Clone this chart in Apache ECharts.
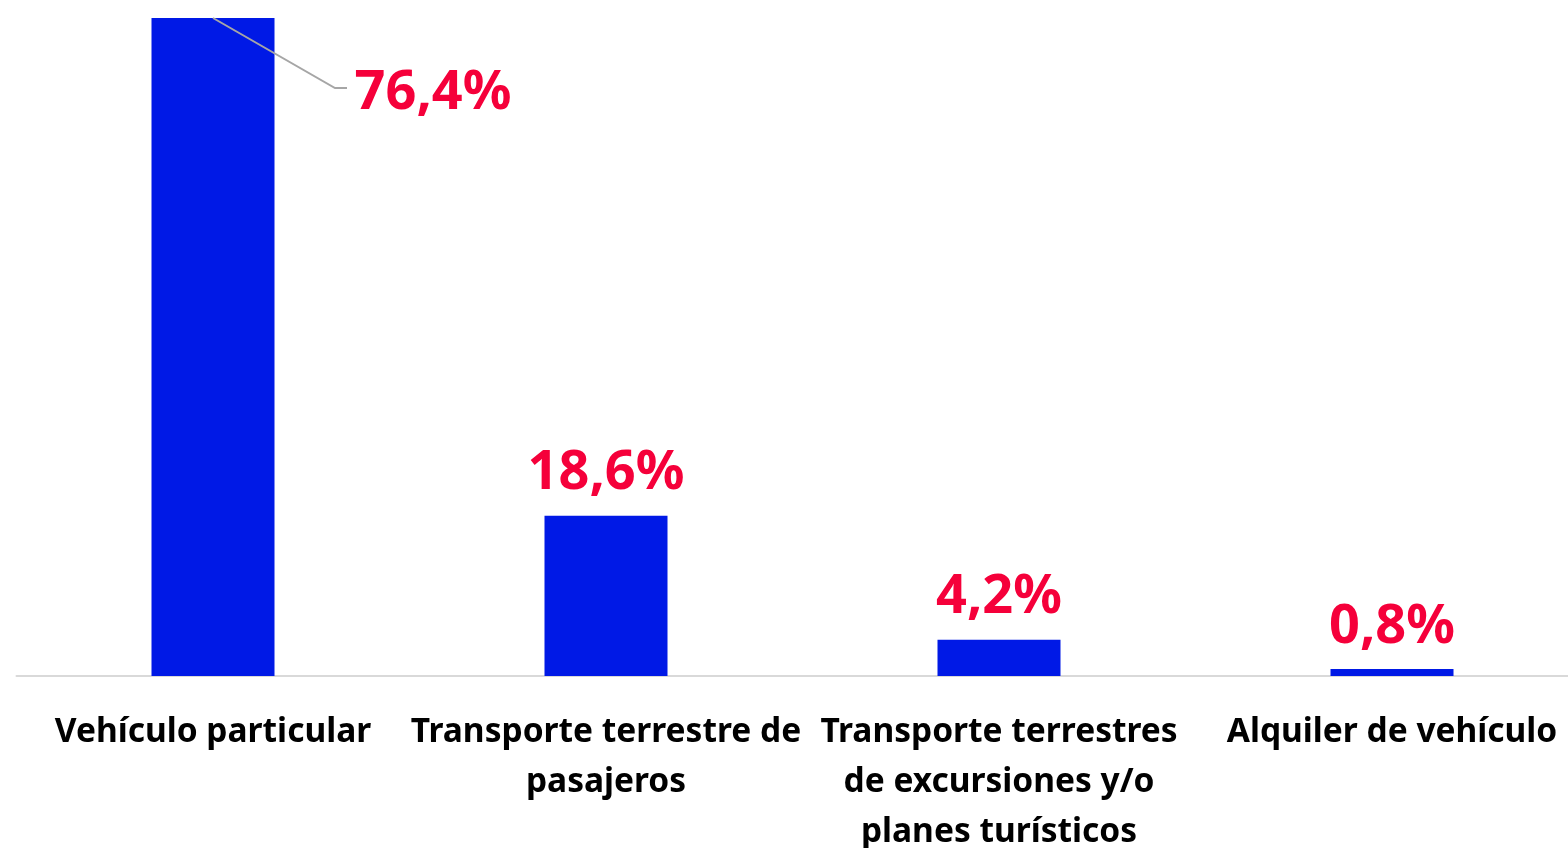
<!DOCTYPE html>
<html>
<head>
<meta charset="utf-8">
<script src="https://cdn.jsdelivr.net/npm/echarts@6/dist/echarts.min.js"></script>
<style>html,body{margin:0;padding:0;background:#fff;}#c{width:1568px;height:848px;}</style>
</head>
<body>
<div id="c"></div>
<script>
const categories = ['Vehículo particular', 'Transporte terrestre de\npasajeros', 'Transporte terrestres\nde excursiones y/o\nplanes turísticos', 'Alquiler de vehículo'];
const values = [76.4, 18.6, 4.2, 0.8];
const valueLabels = ['76,4%', '18,6%', '4,2%', '0,8%'];

const chart = echarts.init(document.getElementById('c'), null, {renderer: 'canvas'});
chart.setOption({
  animation: false,
  grid: {left: 16.5, right: -20.5, top: 18, bottom: 172, containLabel: false, outerBoundsMode: 'none'},
  xAxis: {
    type: 'category',
    data: categories,
    axisLine: {lineStyle: {color: '#d9d9d9', width: 2}},
    axisTick: {show: false},
    axisLabel: {
      interval: 0, margin: 31, color: '#000', fontFamily: 'Noto Sans', fontWeight: 'bold',
      fontSize: 33.5, lineHeight: 50
    }
  },
  yAxis: {type: 'value', min: 0, max: 76.4, show: false, splitLine: {show: false}},
  series: [{
    type: 'bar',
    data: values,
    barWidth: 123,
    itemStyle: {color: '#0019E6'},
    label: {
      show: true, position: 'top', distance: 15,
      formatter: p => valueLabels[p.dataIndex],
      color: '#F5003A', fontFamily: 'Noto Sans', fontWeight: 'bold', fontSize: 54
    },
    labelLayout: function (params) {
      if (params.dataIndex === 0) {
        return {dx: 220, dy: 118};
      }
      return {};
    }
  }, {
    type: 'custom',
    data: [[0, values[0]]],
    silent: true,
    z: 3,
    renderItem: function (params, api) {
      const p = api.coord([api.value(0), api.value(1)]);
      return {
        type: 'polyline',
        shape: {points: [[p[0], p[1]], [p[0] + 122, p[1] + 70], [p[0] + 134, p[1] + 70]]},
        style: {stroke: '#a6a6a6', lineWidth: 2, fill: null}
      };
    }
  }]
});
</script>
</body>
</html>
